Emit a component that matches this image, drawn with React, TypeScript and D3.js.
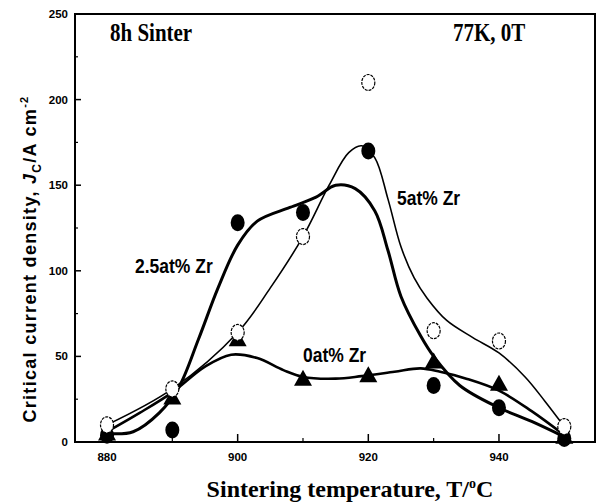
import React from "react";
import * as d3 from "d3";

// sintering temperature (deg C) and measured Jc (A/cm2) for each Zr content
const temps = [880, 890, 900, 910, 920, 930, 940, 950];
const jcZr5 = [10, 31, 64, 120, 210, 65, 59, 9];
const jcZr25 = [4, 7, 128, 134, 170, 33, 20, 2];
const jcZr0 = [5, 26, 60, 37, 39, 47, 34, 3];

// hand drawn guide curves
const fitZr5: [number, number][] = [
  [880, 10], [890, 31], [900, 64], [905, 90], [910, 120], [914, 150], [917, 169],
  [919, 173], [921, 166], [923, 142], [925, 114], [927, 96], [929, 84], [932, 71],
  [936, 61], [940, 52], [944, 38], [947, 24], [950, 9],
];
const fitZr25: [number, number][] = [
  [880, 5], [884, 6], [888, 17], [891, 32], [894, 60], [897, 90], [900, 115],
  [903, 129], [908, 137], [912, 143], [915, 150], [918, 148], [921, 135],
  [923, 112], [925, 85], [928, 62], [930, 50], [934, 33], [940, 20], [945, 12], [950, 3],
];
const fitZr0: [number, number][] = [
  [880, 6], [885, 17], [890, 29], [895, 44], [899, 51], [903, 49], [907, 42],
  [910, 38], [915, 37], [919, 38.5], [924, 41], [928, 43], [931, 41], [935, 37],
  [940, 30], [945, 18], [950, 4],
];

const xMajor = [880, 900, 920, 940];
const xMinor = [890, 910, 930, 950];
const yMajor = [0, 50, 100, 150, 200, 250];
const yMinor = [25, 75, 125, 175, 225];

const W = 600;
const H = 502;

export default function App() {
  const x = d3.scaleLinear().domain([875.1, 954.7]).range([75, 595]);
  const y = d3.scaleLinear().domain([0, 250]).range([442, 14]);

  const line = d3
    .line<[number, number]>()
    .x((d) => x(d[0]))
    .y((d) => y(d[1]))
    .curve(d3.curveCatmullRom.alpha(0.5));

  const tri = (cx: number, cy: number) =>
    `M${cx},${cy - 9}L${cx + 9},${cy + 7}L${cx - 9},${cy + 7}Z`;

  const sans = "'Liberation Sans', Arial, sans-serif";
  const serif = "'Liberation Serif', 'Times New Roman', serif";

  // scanned figure: lettering looks a bit stretched vertically
  const label = (tx: number, ty: number, txt: string, font: string, size: number) => (
    <text
      transform={`translate(${tx},${ty}) scale(1,1.15)`}
      fontFamily={font}
      fontWeight="bold"
      fontSize={size}
    >
      {txt}
    </text>
  );

  return (
    <svg width={W} height={H} style={{ position: "absolute", left: 0, top: 0, background: "#fff" }}>
      {/* curves */}
      <path d={line(fitZr5) || ""} fill="none" stroke="#000" strokeWidth={1.6} />
      <path d={line(fitZr0) || ""} fill="none" stroke="#000" strokeWidth={2.6} />
      <path d={line(fitZr25) || ""} fill="none" stroke="#000" strokeWidth={3} />

      {/* markers */}
      {temps.map((t, i) => (
        <ellipse key={"f" + t} cx={x(t)} cy={y(jcZr25[i])} rx={7} ry={8.5} fill="#000" />
      ))}
      {temps.map((t, i) => (
        <path key={"t" + t} d={tri(x(t), y(jcZr0[i]))} fill="#000" />
      ))}
      {temps.map((t, i) => (
        <ellipse
          key={"o" + t}
          cx={x(t)}
          cy={y(jcZr5[i])}
          rx={6.5}
          ry={8}
          fill="#fff"
          stroke="#000"
          strokeWidth={1.2}
          strokeDasharray="3 1"
        />
      ))}

      {/* frame */}
      <rect x={75} y={14} width={520} height={428} fill="none" stroke="#000" strokeWidth={2} />

      {/* y ticks */}
      {yMajor.map((v) => (
        <g key={"ym" + v}>
          <line x1={75} x2={81} y1={y(v)} y2={y(v)} stroke="#000" strokeWidth={1.5} />
          <text
            x={68}
            y={y(v) + 4}
            textAnchor="end"
            fontFamily={sans}
            fontWeight="bold"
            fontSize={11.5}
          >
            {v}
          </text>
        </g>
      ))}
      {yMinor.map((v) => (
        <line key={"yn" + v} x1={75} x2={78} y1={y(v)} y2={y(v)} stroke="#000" strokeWidth={1.2} />
      ))}

      {/* x ticks */}
      {xMajor.map((v) => (
        <g key={"xm" + v}>
          <line x1={x(v)} x2={x(v)} y1={442} y2={434} stroke="#000" strokeWidth={1.5} />
          <text
            x={x(v)}
            y={461}
            textAnchor="middle"
            fontFamily={sans}
            fontWeight="bold"
            fontSize={11.5}
          >
            {v}
          </text>
        </g>
      ))}
      {xMinor.map((v) => (
        <line key={"xn" + v} x1={x(v)} x2={x(v)} y1={442} y2={438} stroke="#000" strokeWidth={1.2} />
      ))}

      {/* annotations */}
      {label(110, 41, "8h Sinter", serif, 21)}
      {label(453, 41, "77K, 0T", serif, 21)}
      {label(397, 205, "5at% Zr", sans, 17.5)}
      {label(135, 273, "2.5at% Zr", sans, 17.5)}
      {label(303, 362, "0at% Zr", sans, 17.5)}

      {/* axis titles */}
      <text x={350} y={497} textAnchor="middle" fontFamily={serif} fontWeight="bold" fontSize={24}>
        Sintering temperature, T/
        <tspan fontSize={14} dy={-9}>o</tspan>
        <tspan dy={9}>C</tspan>
      </text>
      <text
        transform="translate(36,259) rotate(-90)"
        textAnchor="middle"
        fontFamily={sans}
        fontWeight="bold"
        fontSize={18}
        letterSpacing={1.3}
      >
        Critical current density,{" "}
        <tspan fontStyle="italic">J</tspan>
        <tspan fontSize={12} dy={5}>C</tspan>
        <tspan dy={-5}>/A cm</tspan>
        <tspan fontSize={11} dy={-8}>-2</tspan>
      </text>
    </svg>
  );
}
